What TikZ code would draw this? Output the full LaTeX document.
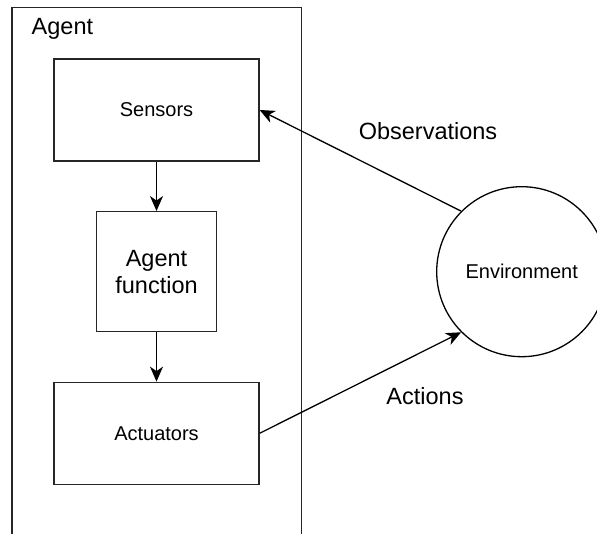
\documentclass[tikz,border=0pt]{standalone}
\usepackage{fontspec}
\setmainfont{Liberation Sans}
\usetikzlibrary{arrows.meta}

\tikzset{
  block/.style={draw=black!85,line width=1.3pt,inner sep=0pt,font=\fontsize{20}{24}\selectfont},
  flow/.style={line width=1.3pt,-{Stealth[length=15pt,width=13pt,inset=4.5pt]}},
  biglabel/.style={font=\fontsize{23.5}{27}\selectfont,inner sep=0pt}
}

\begin{document}
\begin{tikzpicture}[x=1pt,y=-1pt]
\useasboundingbox (0,0) rectangle (597,534);
\clip (0,0) rectangle (597,534);

% agent frame, open at the bottom
\draw[black!85,line width=1.5pt](12,540)--(12,7.5)--(301.5,7.5)--(301.5,540);
\node[biglabel,anchor=base west] (agentlabel) at (31.5,34.3) {Agent};

\node[block,minimum width=205pt,minimum height=102pt] (sensors) at (156.5,110) {Sensors};
\node[block,minimum width=119.5pt,minimum height=120pt,align=center,
  font=\fontsize{23.5}{27}\selectfont] (agentfn) at (156.5,271.7) {Agent\\function};
\node[block,minimum width=205pt,minimum height=102pt] (actuators) at (156.5,433.3) {Actuators};

\node[block,draw=black,circle,minimum size=170pt] (environment) at (521.7,271.7) {Environment};

\draw[flow](sensors)--(agentfn);
\draw[flow](agentfn)--(actuators);
\draw[flow](environment.135)--(sensors.east);
\draw[flow](actuators.east)--(environment.225);

\node[biglabel,anchor=base] (observations) at (428,140) {Observations};
\node[biglabel,anchor=base] (actions) at (425,405) {Actions};

\end{tikzpicture}
\end{document}
